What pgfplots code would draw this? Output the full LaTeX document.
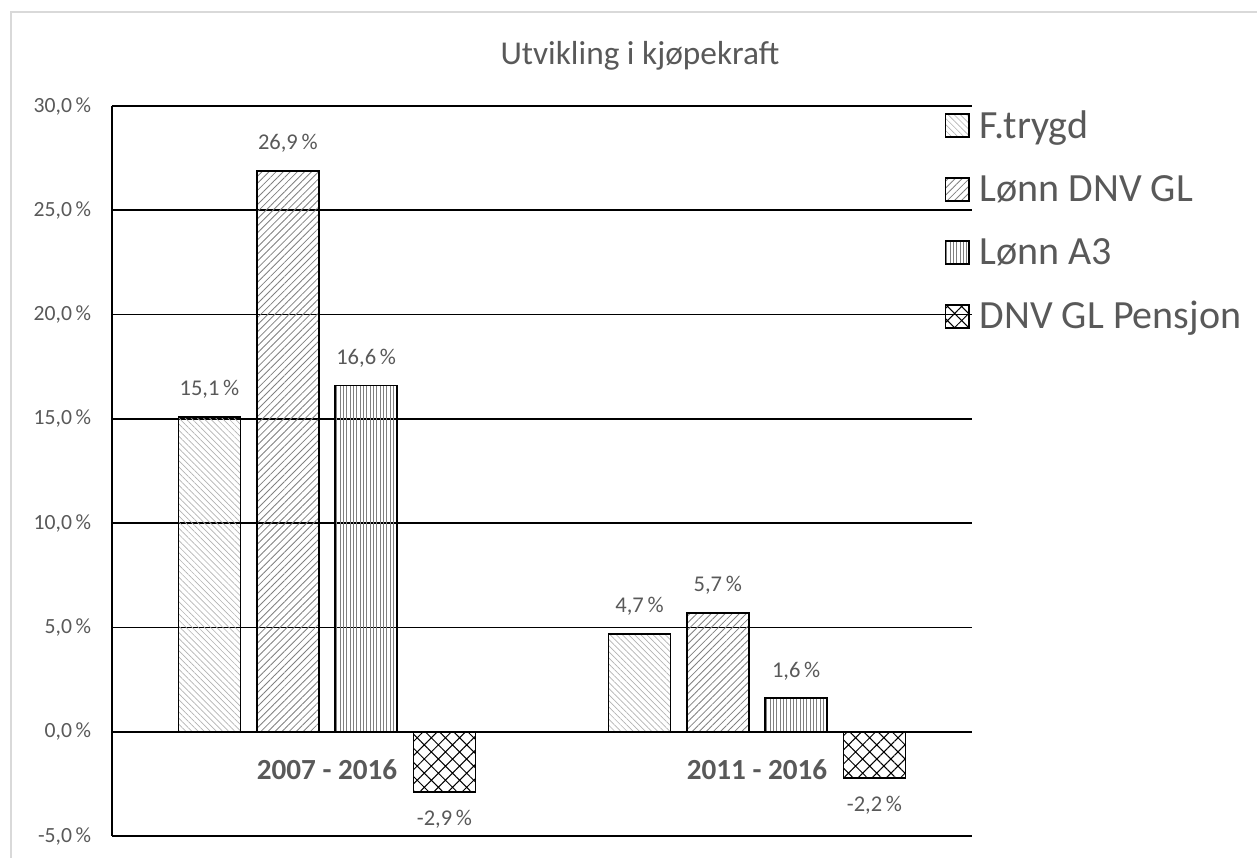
\documentclass[border=0pt]{standalone}
\usepackage{pgfplots}
\pgfplotsset{compat=1.18}
\usetikzlibrary{patterns,patterns.meta}
\usepackage{fontspec}
\setmainfont{Carlito}
\definecolor{txt}{HTML}{595959}
\definecolor{brd}{HTML}{D9D9D9}
\pgfplotsset{
  mylegend/.style={legend image code/.code={\draw[##1,line width=1.1pt] (0pt,-7pt) rectangle (14pt,7pt);}},
}
\begin{document}
\begin{tikzpicture}[x=0.6pt,y=0.6pt]
\path[use as bounding box] (0,0) rectangle (1257,858);
\draw[brd, line width=1.2pt] (11,-20) -- (11,846) -- (1290,846);
\node[txt, font=\fontsize{20}{24}\selectfont, anchor=base] at (640,793) {Utvikling i kjøpekraft};
\begin{axis}[
  at={(67.2pt,13.2pt)}, anchor=south west,
  scale only axis, width=516pt, height=438pt,
  xmin=-0.5, xmax=1.5, ymin=-5, ymax=30,
  ytick={-5,0,...,30}, xtick={0,1},
  xticklabels={2007 - 2016, 2011 - 2016},
  axis x line*=middle, axis y line*=left,
  axis line style={black, line width=1pt},
  ymajorgrids, grid style={black, line width=1pt},
  major tick length=0pt,
  tick label style={text=txt},
  yticklabel style={font=\fontsize{13}{15}\selectfont, xshift=-9pt},
  yticklabel={\pgfmathprintnumber[fixed,fixed zerofill,precision=1,use comma,assume math mode=true]{\tick}\,\%},
  xticklabel style={font=\bfseries\fontsize{17.5}{20}\selectfont, yshift=-13pt},
  clip=false,
  ybar,
  bar width=37.2pt,
  nodes near coords={\pgfmathprintnumber[fixed,fixed zerofill,precision=1,use comma,assume math mode=true]{\pgfplotspointmeta}\,\%},
  nodes near coords style={font=\fontsize{13.5}{15}\selectfont, text=txt, inner ysep=10.5pt},
  legend style={at={(0.962,1.001)}, anchor=north west, draw=none, fill=none,
    font=\fontsize{24}{28}\selectfont, text=txt, row sep=18.7pt,
    nodes={inner sep=1pt}},
  legend cell align=left,
  legend style={/tikz/every odd column/.append style={column sep=5pt},
                /tikz/every even column/.append style={column sep=0pt}},
]
\addplot[bar shift=-70.5pt, draw=black, line width=1.1pt,
  pattern={Lines[angle=-45,distance=2.6pt,line width=0.4pt]}, pattern color=gray!60, mylegend]
  coordinates {(0,15.1) (1,4.7)};
\addplot[bar shift=-23.5pt, draw=black, line width=1.1pt,
  pattern={Lines[angle=45,distance=3pt,line width=0.5pt]}, pattern color=gray, mylegend]
  coordinates {(0,26.9) (1,5.7)};
\addplot[bar shift=23.5pt, draw=black, line width=1.1pt,
  pattern={Lines[angle=90,distance=2pt,line width=0.45pt]}, pattern color=gray, mylegend]
  coordinates {(0,16.6) (1,1.6)};
\addplot[bar shift=70.5pt, draw=black, line width=1.1pt,
  pattern={Hatch[angle=45,distance=6pt,line width=0.6pt]}, pattern color=black, mylegend]
  coordinates {(0,-2.9) (1,-2.2)};
\legend{F.trygd, Lønn DNV GL, Lønn A3, DNV GL Pensjon}
\end{axis}
\end{tikzpicture}
\end{document}
